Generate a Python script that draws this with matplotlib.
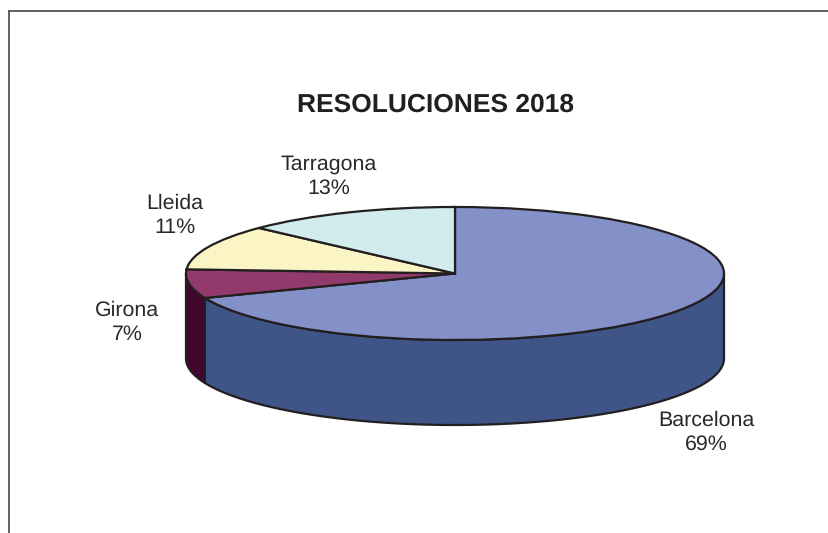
import numpy as np
import matplotlib
matplotlib.use("Agg")
import matplotlib.pyplot as plt

# Data
cities = ["Barcelona", "Girona", "Lleida", "Tarragona"]
shares = [69, 7, 11, 13]
top_colors = ["#8491C8", "#933A6C", "#FBF5C6", "#D2ECEE"]
side_colors = ["#3F5587", "#43062E", "#FBF5C6", "#D2ECEE"]
title = "RESOLUCIONES 2018"

W, H = 829, 533
CX, CY, RX, RY, DEPTH = 455, 273.5, 269, 66.5, 85
EDGE = "#231F20"

plt.rcParams["font.family"] = ["Liberation Sans", "DejaVu Sans"]
plt.rcParams["text.hinting"] = "no_hinting"

fig = plt.figure(figsize=(W / 100, H / 100), dpi=100)
ax = fig.add_axes([0, 0, 1, 1])

# pie on a unit circle, squashed into an ellipse by the axes limits
ax.pie(shares, colors=top_colors, startangle=90, counterclock=False, radius=1,
       wedgeprops={"edgecolor": EDGE, "linewidth": 1.6, "zorder": 5})
ax.set_aspect("auto")
ax.set_xlim(-CX / RX, (W - CX) / RX)
ax.set_ylim((CY - H) / RY, CY / RY)
ax.set_axis_off()

# side wall: only the part of each slice on the front half of the ellipse
drop = DEPTH / RY
start = 90.0
for share, col in zip(shares, side_colors):
    end = start - share * 3.6
    lo = max(end, -180.0) if end > -180 else -180.0
    hi = min(start, 0.0)
    if hi > lo:
        t = np.radians(np.linspace(lo, hi, 120))
        x = np.cos(t)
        y = np.sin(t)
        px = np.concatenate([x, x[::-1]])
        py = np.concatenate([y, y[::-1] - drop])
        ax.fill(px, py, facecolor=col, edgecolor=EDGE, linewidth=1.6, zorder=2,
                joinstyle="round")
    start = end


def to_fig(px, py):
    return px / W, 1 - py / H


# outer frame, open on the right and bottom
x0, y0 = to_fig(9, 11)
fig.add_artist(plt.Line2D([x0, x0], [0, y0], color="#555555", lw=1.3))
fig.add_artist(plt.Line2D([x0, 1], [y0, y0], color="#555555", lw=1.3))

tx, ty = to_fig(436, 105)
fig.text(tx, ty, title, ha="center", va="center", fontsize=19,
         fontweight="bold", color="#231F20")

label_pos = [(706, 432), (127.5, 322), (175, 215), (329, 176)]
for city, share, (lx, ly) in zip(cities, shares, label_pos):
    fx, fy = to_fig(lx, ly)
    fig.text(fx, fy, f"{city}\n{share}%", ha="center", va="center",
             fontsize=15.4, color="#2B2829", linespacing=1.3)

fig.savefig("out.png", dpi=100)
